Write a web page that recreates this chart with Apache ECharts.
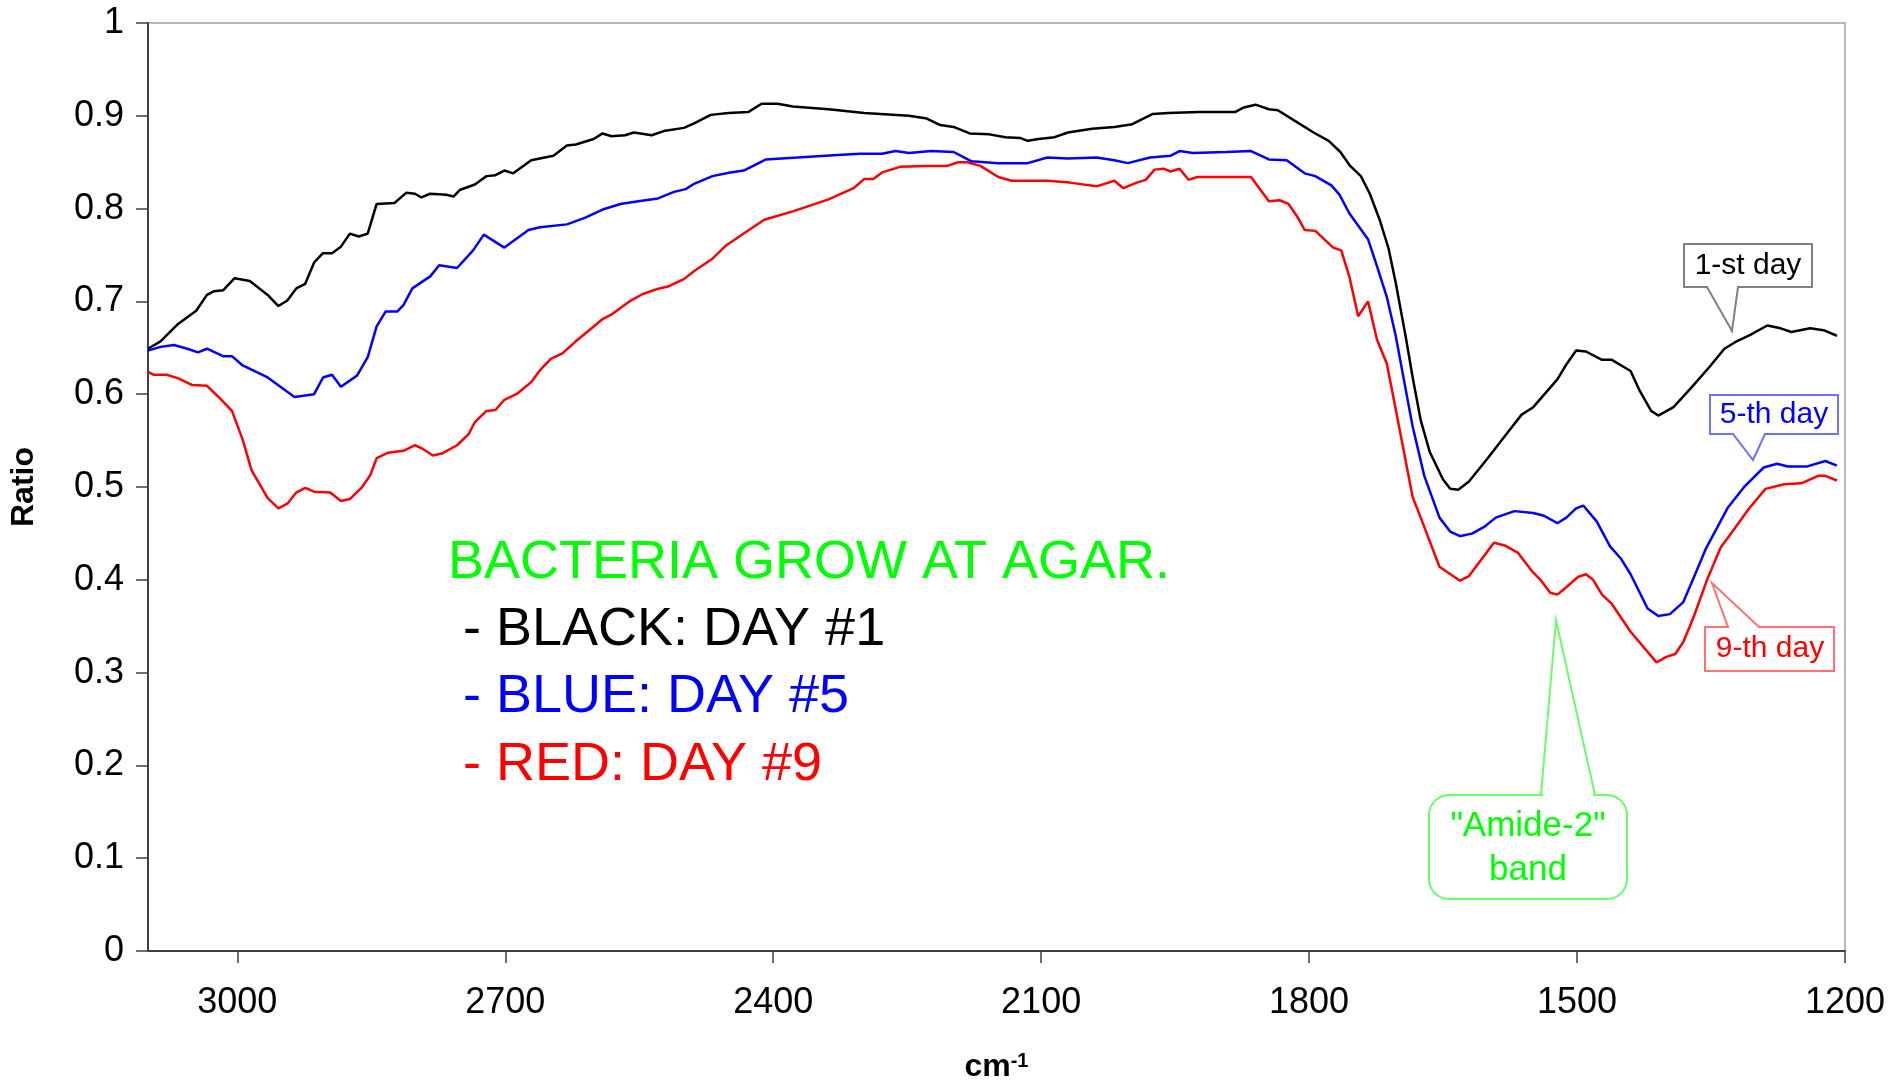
<!DOCTYPE html>
<html>

<head>
    <meta charset="utf-8" />
    <title>Bacteria grow at agar</title>
    <script src="https://cdn.jsdelivr.net/npm/echarts@6.0.0/dist/echarts.min.js"></script>
    <style>
        html,
        body {
            margin: 0;
            padding: 0;
            background: #fff;
        }

        #main {
            width: 1888px;
            height: 1089px;
        }
    </style>
</head>

<body>
    <div id="main"></div>
</body>

<script>
    // day 1 (black) - wavenumber / ratio
    var blackX = [3100, 3086, 3066, 3046, 3034, 3026, 3016, 3003, 2986, 2966, 2954, 2944, 2934, 2924, 2914, 2904, 2894, 2884, 2874, 2864,
        2854, 2844, 2824, 2811, 2801, 2794, 2784, 2766, 2758, 2751, 2734, 2721, 2711, 2701, 2691, 2671, 2646, 2631, 2621, 2601,
        2591, 2581, 2566, 2556, 2536, 2521, 2500, 2488, 2470, 2450, 2428, 2413, 2395, 2378, 2338, 2298, 2248, 2228, 2213, 2198,
        2180, 2158, 2140, 2123, 2115, 2103, 2085, 2070, 2043, 2018, 1998, 1975, 1958, 1923, 1883, 1873, 1860, 1845, 1835, 1815,
        1795, 1778, 1765, 1754, 1742, 1732, 1721, 1711, 1703, 1692, 1684, 1675, 1665, 1650, 1642, 1633, 1621, 1600, 1579, 1562,
        1549, 1522, 1512, 1501, 1490, 1472, 1461, 1440, 1430, 1417, 1409, 1392, 1373, 1352, 1335, 1323, 1306, 1287, 1272, 1260,
        1239, 1224, 1209];
    var blackY = [0.649, 0.657, 0.676, 0.690, 0.707, 0.711, 0.712, 0.725, 0.722, 0.707, 0.695, 0.701, 0.714, 0.719, 0.742, 0.752, 0.752, 0.759, 0.773, 0.770,
        0.773, 0.805, 0.806, 0.817, 0.816, 0.812, 0.816, 0.815, 0.813, 0.820, 0.826, 0.835, 0.836, 0.841, 0.838, 0.852, 0.857, 0.868, 0.869, 0.875,
        0.881, 0.878, 0.879, 0.882, 0.879, 0.884, 0.887, 0.892, 0.901, 0.903, 0.904, 0.913, 0.913, 0.910, 0.907, 0.903, 0.900, 0.897, 0.890, 0.888,
        0.881, 0.880, 0.877, 0.876, 0.873, 0.875, 0.877, 0.882, 0.886, 0.888, 0.891, 0.902, 0.903, 0.904, 0.904, 0.909, 0.912, 0.907, 0.906, 0.894,
        0.882, 0.873, 0.861, 0.846, 0.835, 0.816, 0.788, 0.757, 0.720, 0.663, 0.618, 0.572, 0.538, 0.508, 0.498, 0.497, 0.506, 0.531, 0.557, 0.578,
        0.586, 0.616, 0.632, 0.647, 0.646, 0.637, 0.637, 0.625, 0.604, 0.582, 0.577, 0.586, 0.606, 0.629, 0.649, 0.656, 0.664, 0.674, 0.671, 0.667,
        0.671, 0.669, 0.663];

    // day 5 (blue)
    var blueX = [3100, 3086, 3071, 3056, 3044, 3034, 3016, 3006, 2994, 2966, 2936, 2914, 2904, 2894, 2884, 2866, 2854, 2844, 2834, 2821,
        2814, 2804, 2784, 2774, 2754, 2736, 2724, 2701, 2674, 2661, 2631, 2611, 2591, 2571, 2551, 2529, 2511, 2498, 2488, 2468,
        2448, 2433, 2408, 2373, 2323, 2303, 2278, 2263, 2248, 2223, 2198, 2188, 2178, 2148, 2115, 2093, 2070, 2038, 2018, 2003,
        1978, 1955, 1945, 1930, 1893, 1865, 1845, 1825, 1805, 1793, 1775, 1766, 1755, 1734, 1724, 1713, 1703, 1692, 1684, 1671,
        1654, 1642, 1631, 1617, 1604, 1591, 1570, 1549, 1537, 1522, 1512, 1501, 1493, 1478, 1463, 1451, 1440, 1421, 1409, 1396,
        1381, 1369, 1356, 1331, 1312, 1291, 1276, 1264, 1243, 1222, 1209];
    var blueY = [0.647, 0.651, 0.653, 0.649, 0.645, 0.649, 0.641, 0.641, 0.631, 0.618, 0.597, 0.600, 0.618, 0.621, 0.608, 0.620, 0.640, 0.673, 0.689, 0.689,
        0.696, 0.714, 0.727, 0.739, 0.736, 0.755, 0.772, 0.758, 0.777, 0.780, 0.783, 0.790, 0.799, 0.805, 0.808, 0.811, 0.818, 0.821, 0.827, 0.835,
        0.839, 0.841, 0.853, 0.855, 0.858, 0.859, 0.859, 0.862, 0.860, 0.862, 0.861, 0.856, 0.851, 0.849, 0.849, 0.855, 0.854, 0.855, 0.852, 0.849,
        0.855, 0.857, 0.862, 0.860, 0.861, 0.862, 0.853, 0.852, 0.838, 0.835, 0.825, 0.815, 0.795, 0.767, 0.738, 0.705, 0.663, 0.606, 0.565, 0.512,
        0.467, 0.452, 0.447, 0.450, 0.457, 0.467, 0.474, 0.472, 0.469, 0.461, 0.467, 0.477, 0.480, 0.463, 0.436, 0.423, 0.406, 0.369, 0.361, 0.363,
        0.376, 0.403, 0.433, 0.478, 0.501, 0.521, 0.525, 0.522, 0.522, 0.528, 0.523];

    // day 9 (red)
    var redX = [3100, 3094, 3079, 3066, 3051, 3034, 3021, 3006, 2994, 2984, 2966, 2954, 2944, 2934, 2924, 2914, 2896, 2884, 2874, 2861,
        2851, 2844, 2831, 2814, 2801, 2794, 2781, 2771, 2754, 2741, 2734, 2721, 2711, 2701, 2686, 2671, 2661, 2649, 2636, 2621,
        2606, 2591, 2581, 2561, 2546, 2531, 2518, 2500, 2488, 2468, 2453, 2438, 2410, 2378, 2338, 2310, 2298, 2288, 2278, 2258,
        2228, 2205, 2193, 2183, 2168, 2148, 2133, 2093, 2068, 2038, 2018, 2008, 1993, 1983, 1973, 1963, 1955, 1945, 1935, 1925,
        1865, 1845, 1833, 1823, 1813, 1805, 1793, 1773, 1764, 1755, 1745, 1734, 1724, 1713, 1700, 1684, 1675, 1654, 1631, 1621,
        1593, 1581, 1566, 1551, 1541, 1530, 1522, 1512, 1499, 1490, 1482, 1472, 1461, 1440, 1411, 1400, 1390, 1381, 1369, 1354,
        1339, 1329, 1308, 1289, 1268, 1249, 1230, 1222, 1209];
    var redY = [0.624, 0.621, 0.621, 0.617, 0.610, 0.609, 0.597, 0.582, 0.551, 0.518, 0.488, 0.477, 0.482, 0.494, 0.499, 0.495, 0.494, 0.485, 0.487, 0.499,
        0.513, 0.531, 0.537, 0.539, 0.545, 0.542, 0.534, 0.536, 0.545, 0.557, 0.570, 0.582, 0.583, 0.594, 0.601, 0.613, 0.626, 0.638, 0.644, 0.657,
        0.669, 0.681, 0.686, 0.700, 0.708, 0.713, 0.716, 0.724, 0.733, 0.746, 0.760, 0.770, 0.788, 0.797, 0.810, 0.822, 0.832, 0.832, 0.839, 0.845,
        0.846, 0.846, 0.850, 0.850, 0.846, 0.834, 0.830, 0.830, 0.828, 0.824, 0.830, 0.822, 0.828, 0.831, 0.842, 0.843, 0.840, 0.843, 0.831, 0.834,
        0.834, 0.808, 0.809, 0.805, 0.791, 0.777, 0.776, 0.758, 0.755, 0.727, 0.684, 0.700, 0.659, 0.633, 0.569, 0.489, 0.467, 0.414, 0.399, 0.404,
        0.440, 0.437, 0.429, 0.410, 0.400, 0.386, 0.384, 0.392, 0.403, 0.406, 0.400, 0.384, 0.374, 0.344, 0.311, 0.317, 0.320, 0.333, 0.361, 0.401,
        0.435, 0.448, 0.476, 0.498, 0.503, 0.504, 0.512, 0.512, 0.507];

    // axis ticks
    var xTicks = [3000, 2700, 2400, 2100, 1800, 1500, 1200];

    // texts on the plot
    var noteTitle = 'BACTERIA GROW AT AGAR.';
    var noteLines = ['- BLACK: DAY #1', '- BLUE: DAY #5', '- RED: DAY #9'];
    var noteColors = ['#000000', '#0000ff', '#ff0000'];

    var FONT = "'Liberation Sans', Arial, sans-serif";

    function pairs(xs, ys) {
        var out = [];
        for (var i = 0; i < xs.length; i++) out.push([xs[i], ys[i]]);
        return out;
    }

    var myChart = echarts.init(document.getElementById('main'));

    // legend-like notes and callout boxes
    var graphics = [];
    graphics.push({
        type: 'text', z: 100,
        style: { text: noteTitle, x: 448, y: 563, fill: '#00ff00', font: '54px ' + FONT, textVerticalAlign: 'middle', verticalAlign: 'middle' }
    });
    for (var i = 0; i < noteLines.length; i++) {
        graphics.push({
            type: 'text', z: 100,
            style: { text: noteLines[i], x: 463, y: 630 + i * 67.5, fill: noteColors[i], font: '54px ' + FONT, textVerticalAlign: 'middle', verticalAlign: 'middle' }
        });
    }

    function callout(points, border, text, color, cx, cy) {
        graphics.push({
            type: 'polygon', z: 100,
            shape: { points: points },
            style: { fill: '#fff', stroke: border, lineWidth: 2 }
        });
        graphics.push({
            type: 'text', z: 101,
            style: { text: text, x: cx, y: cy, fill: color, font: '30px ' + FONT, textAlign: 'center', align: 'center', textVerticalAlign: 'middle', verticalAlign: 'middle' }
        });
    }

    callout([[1684, 244], [1812, 244], [1812, 287], [1738, 287], [1732, 331], [1707, 287], [1684, 287]],
        '#808080', '1-st day', '#000', 1748, 266);
    callout([[1710, 395], [1838, 395], [1838, 434], [1765, 434], [1753, 460], [1733, 434], [1710, 434]],
        '#7070ff', '5-th day', '#0000ff', 1774, 415);
    callout([[1705, 627], [1728, 627], [1712, 583], [1759, 627], [1834, 627], [1834, 671], [1705, 671]],
        '#ff7070', '9-th day', '#ff0000', 1770, 649);

    // "Amide-2" rounded box
    graphics.push({
        type: 'rect', z: 100,
        shape: { x: 1429, y: 795, width: 198, height: 104, r: 20 },
        style: { fill: '#fff', stroke: '#66ff66', lineWidth: 2 }
    });
    graphics.push({
        type: 'line', z: 101,
        shape: { x1: 1543, y1: 795, x2: 1593, y2: 795 },
        style: { stroke: '#fff', lineWidth: 4 }
    });
    graphics.push({
        type: 'polyline', z: 102,
        shape: { points: [[1541, 795], [1556, 620], [1595, 795]] },
        style: { stroke: '#66ff66', lineWidth: 2, fill: null }
    });
    graphics.push({
        type: 'text', z: 103,
        style: { text: '"Amide-2"\nband', x: 1528, y: 848, fill: '#00ff00', font: '35px ' + FONT, lineHeight: 44, textAlign: 'center', align: 'center', textVerticalAlign: 'middle', verticalAlign: 'middle' }
    });

    var option = {
        backgroundColor: '#fff',
        animation: false,
        grid: {
            left: 148,
            right: 43,
            top: 23,
            bottom: 138,
            show: true,
            borderColor: '#a0a0a0',
            borderWidth: 1.5
        },
        xAxis: {
            type: 'value',
            min: 1200,
            max: 3100,
            interval: 300,
            inverse: true,
            name: 'cm{sup|-1}',
            nameLocation: 'middle',
            nameGap: 100,
            nameTextStyle: {
                color: '#000',
                fontFamily: FONT,
                fontSize: 32,
                fontWeight: 'bold',
                rich: {
                    sup: { fontSize: 20, fontWeight: 'bold', fontFamily: FONT, color: '#000', verticalAlign: 'top' }
                }
            },
            axisLine: { lineStyle: { color: '#404040', width: 2 } },
            axisTick: { length: 12, lineStyle: { color: '#404040', width: 1.5 }, customValues: xTicks },
            axisLabel: {
                color: '#000', fontFamily: FONT, fontSize: 36, margin: 34, customValues: xTicks,
                formatter: function (v) { return String(v); }
            },
            splitLine: { show: false }
        },
        yAxis: {
            type: 'value',
            min: 0,
            max: 1,
            interval: 0.1,
            name: 'Ratio',
            nameLocation: 'middle',
            nameRotate: 90,
            nameGap: 108,
            nameTextStyle: { color: '#000', fontFamily: FONT, fontSize: 32, fontWeight: 'bold' },
            axisLine: { show: true, lineStyle: { color: '#404040', width: 2 } },
            axisTick: { show: true, length: 12, lineStyle: { color: '#404040', width: 1.5 } },
            axisLabel: {
                color: '#000', fontFamily: FONT, fontSize: 36, margin: 24,
                formatter: function (v) { return String(Math.round(v * 10) / 10); }
            },
            splitLine: { show: false }
        },
        series: [
            { name: 'Day 1', type: 'line', data: pairs(blackX, blackY), showSymbol: false, lineStyle: { color: '#000', width: 2.5 }, z: 4 },
            { name: 'Day 5', type: 'line', data: pairs(blueX, blueY), showSymbol: false, lineStyle: { color: '#0000ff', width: 2.5 }, z: 3 },
            { name: 'Day 9', type: 'line', data: pairs(redX, redY), showSymbol: false, lineStyle: { color: '#ff0000', width: 2.5 }, z: 2 }
        ],
        graphic: graphics
    };

    myChart.setOption(option);
</script>

</html>
